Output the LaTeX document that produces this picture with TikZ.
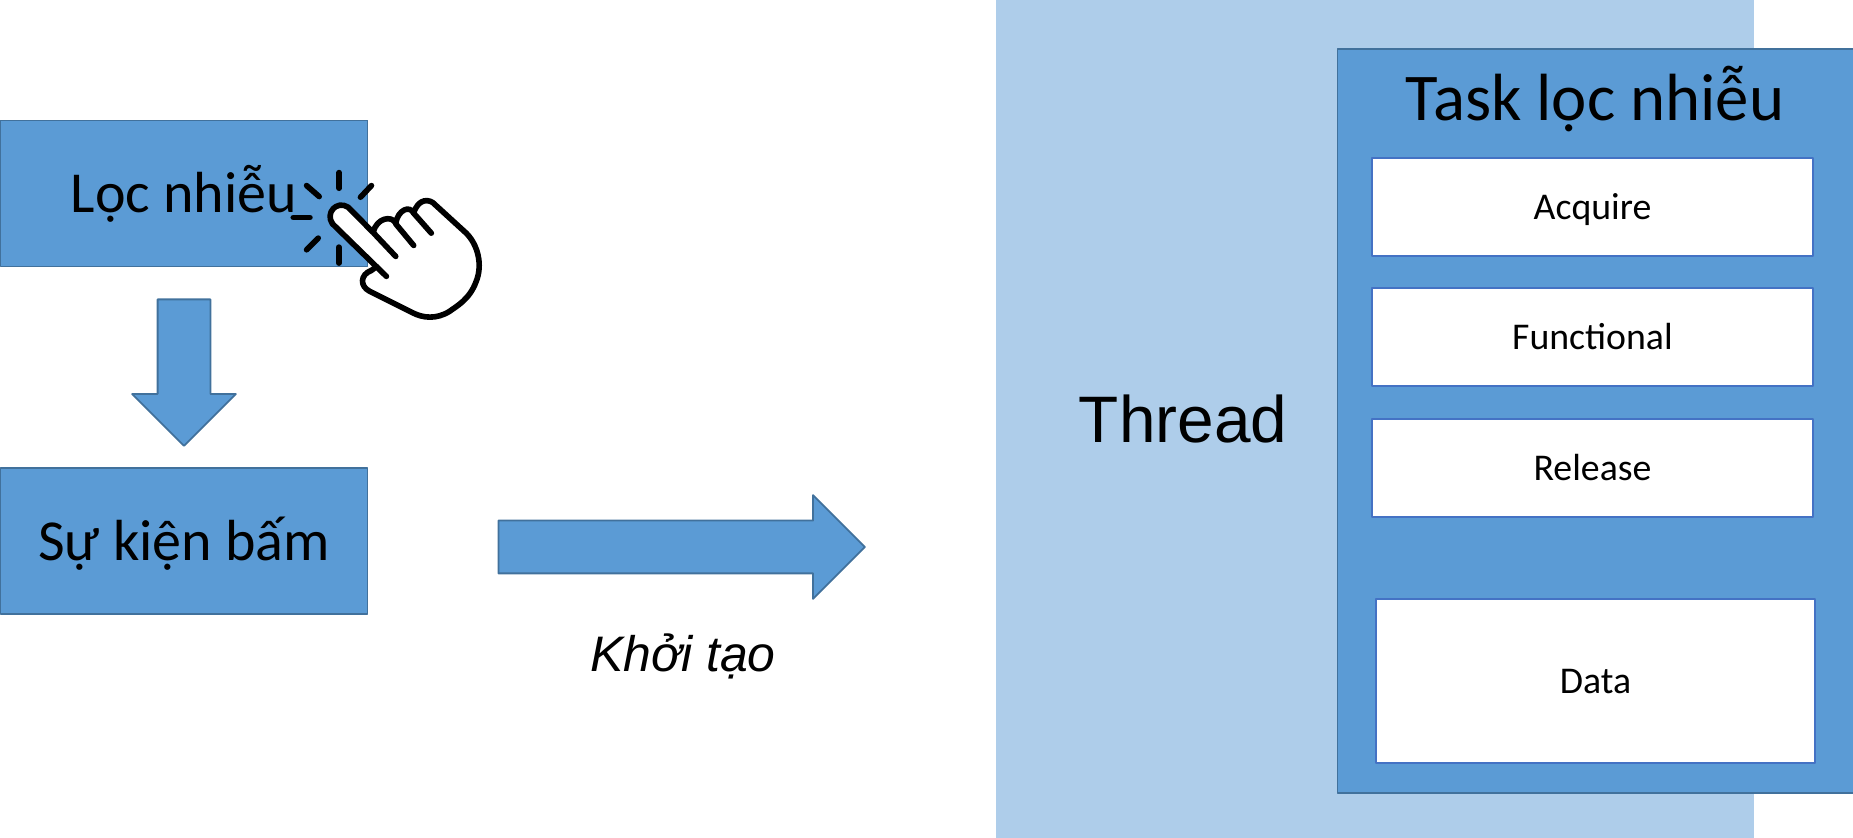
\documentclass[tikz,border=0pt]{standalone}
\usepackage{fontspec}
\setmainfont{Carlito}
\newfontfamily\arialfont{Liberation Sans}
\usetikzlibrary{shapes.arrows}
\definecolor{xanhdam}{HTML}{5B9BD5}
\definecolor{xanhnhat}{HTML}{AECDEA}
\definecolor{vienxanh}{HTML}{41719C}
\definecolor{vientrang}{HTML}{4472C4}
\tikzset{
	hopxanh/.style={draw=vienxanh,fill=xanhdam,line width=0.5pt,minimum width=3.67cm,minimum height=1.46cm,inner sep=0pt,text height=0.39cm,text depth=0pt,font=\fontsize{16.5}{20}\selectfont},
	hoptrang/.style={draw=vientrang,fill=white,line width=0.55pt,minimum width=4.41cm,inner sep=0pt,text height=0.26cm,text depth=0pt,font=\fontsize{10.75}{13}\selectfont},
	muitenkhoi/.style={single arrow,single arrow head extend=0.255cm,draw=vienxanh,fill=xanhdam,line width=0.5pt,anchor=tail},
	tianhay/.style={line width=1.6pt,line cap=round}
}
\begin{document}
\begin{tikzpicture}[line join=round,line cap=round]
	\useasboundingbox (0,0) rectangle (18.53,-8.38);
	%Nền Thread.
	\fill[xanhnhat] (9.96,0) rectangle (17.54,-8.38);
	\node[anchor=base,font=\arialfont\fontsize{18.7}{22}\selectfont] (thread) at (11.83,-4.43) {Thread};
	%Task lọc nhiễu.
	\node[hopxanh,minimum width=5.16cm,minimum height=7.44cm] (task) at (15.955,-4.21) {};
	\node[anchor=base,font=\fontsize{19}{23}\selectfont] (tentask) at (15.95,-1.21) {Task lọc nhiễu};
	\node[hoptrang,minimum height=0.985cm] (acquire) at (15.925,-2.07) {Acquire};
	\node[hoptrang,minimum height=0.985cm] (functional) at (15.925,-3.37) {Functional};
	\node[hoptrang,minimum height=0.985cm] (release) at (15.925,-4.68) {Release};
	\node[hoptrang,minimum height=1.645cm,minimum width=4.39cm] (data) at (15.955,-6.81) {Data};
	%Hai hộp bên trái.
	\node[hopxanh] (locnhieu) at (1.84,-1.935) {Lọc nhiễu};
	\node[hopxanh] (sukien) at (1.84,-5.41) {Sự kiện bấm};
	%Mũi tên.
	\node[muitenkhoi,inner xsep=0.255cm,inner ysep=0pt,minimum height=1.465cm,shape border rotate=270] (muiten1) at (1.84,-2.985) {};
	\node[muitenkhoi,inner xsep=0pt,inner ysep=0.255cm,minimum height=3.665cm] (muiten2) at (4.975,-5.47) {};
	\node[anchor=base,font=\arialfont\itshape\fontsize{14.2}{17}\selectfont] (khoitao) at (6.83,-6.72) {Khởi tạo};
	%Bàn tay.
	\begin{scope}[shift={(2.7,-1.5)},x=0.00333cm,y=-0.00333cm]
		\draw[tianhay,fill=white] (188,222) .. controls (165,190) and (200,150) .. (235,172)
			-- (310,248) .. controls (320,205) and (365,195) .. (378,220)
			.. controls (385,180) and (420,165) .. (432,190)
			.. controls (445,145) and (480,145) .. (497,165)
			-- (590,250) .. controls (625,285) and (640,345) .. (620,395)
			.. controls (600,450) and (560,470) .. (540,485)
			.. controls (500,510) and (460,505) .. (430,490)
			-- (300,425) .. controls (270,410) and (270,375) .. (305,362)
			-- (320,351);
		\draw[tianhay] (188,222) -- (350,380);
		\draw[tianhay] (312,250) -- (378,320);
		\draw[tianhay] (378,222) -- (432,287);
		\draw[tianhay] (432,190) -- (485,250);
		%Tia sáng.
		\draw[tianhay] (208,68) -- (208,115);
		\draw[tianhay] (272,142) -- (305,107);
		\draw[tianhay] (110,107) -- (148,140);
		\draw[tianhay] (70,203) -- (120,203);
		\draw[tianhay] (110,300) -- (145,265);
		\draw[tianhay] (207,292) -- (207,340);
	\end{scope}
\end{tikzpicture}
\end{document}
